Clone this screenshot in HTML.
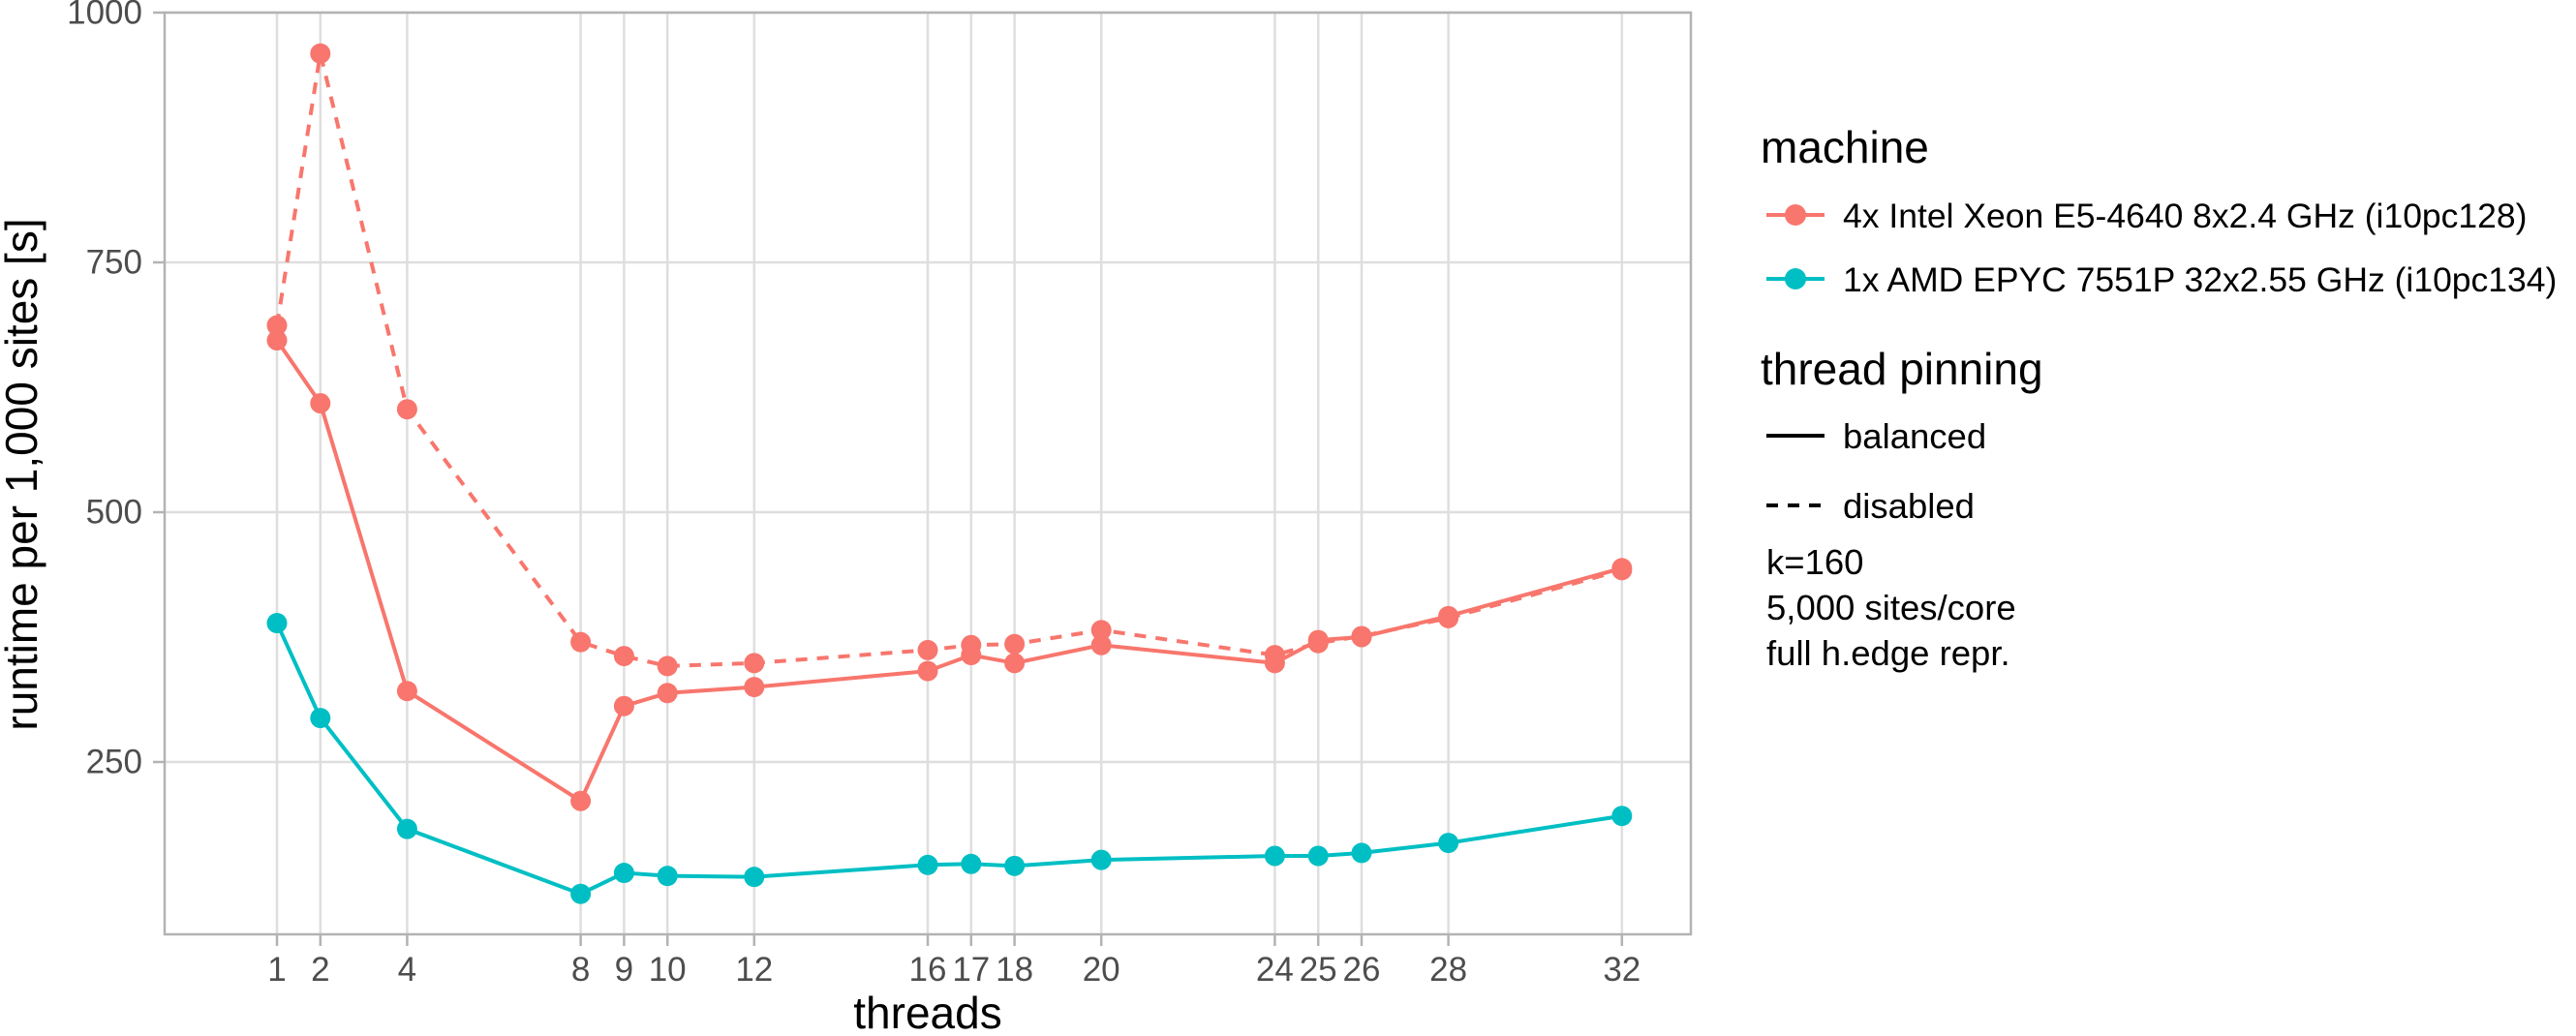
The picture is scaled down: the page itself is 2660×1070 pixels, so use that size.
<!DOCTYPE html>
<html><head><meta charset="utf-8"><style>
html,body{margin:0;padding:0;background:#fff;width:2660px;height:1070px;overflow:hidden}
svg{display:block;font-family:"Liberation Sans",sans-serif}
</style></head><body>
<svg id="chart" width="2660" height="1070" viewBox="0 0 2660 1070">
<g id="grid"></g>
<g id="series"></g>
<g id="axes"></g>
<text x="22" y="490" transform="rotate(-90 22 490)" text-anchor="middle" dominant-baseline="central" font-size="46" fill="#000">runtime per 1,000 sites [s]</text>
<text x="958" y="1062" text-anchor="middle" font-size="46" fill="#000">threads</text>
<g>
<text x="1818" y="168" font-size="46" fill="#000">machine</text>
<g>
<line x1="1824" y1="222" x2="1884" y2="222" stroke="#F8766D" stroke-width="4"/>
<circle cx="1854" cy="222" r="11" fill="#F8766D"/>
<text x="1903" y="235" font-size="35.5" fill="#000">4x Intel Xeon E5-4640 8x2.4 GHz (i10pc128)</text>
</g>
<g>
<line x1="1824" y1="288" x2="1884" y2="288" stroke="#00BFC4" stroke-width="4"/>
<circle cx="1854" cy="288" r="11" fill="#00BFC4"/>
<text x="1903" y="301" font-size="35.5" fill="#000">1x AMD EPYC 7551P 32x2.55 GHz (i10pc134)</text>
</g>
<text x="1818" y="397" font-size="46" fill="#000">thread pinning</text>
<g>
<line x1="1824" y1="450" x2="1884" y2="450" stroke="#000" stroke-width="4"/>
<text x="1903" y="463" font-size="36.5" fill="#000">balanced</text>
</g>
<g>
<line x1="1824" y1="522" x2="1884" y2="522" stroke="#000" stroke-width="4" stroke-dasharray="12,10"/>
<text x="1903" y="535" font-size="36.5" fill="#000">disabled</text>
</g>
<text x="1824" y="593" font-size="36.5" fill="#000">k=160</text>
<text x="1824" y="640" font-size="36.5" fill="#000">5,000 sites/core</text>
<text x="1824" y="687" font-size="36.5" fill="#000">full h.edge repr.</text>
</g>
</svg>
<script>
const threads=[1,2,4,8,9,10,12,16,17,18,20,24,25,26,28,32];
const intelBalanced=[672,609,321,211,306,319,325,341,357,349,367,349,372,375,396,444];
const intelDisabled=[687,959,603,370,356,346,349,362,367,368,382,357,369,376,394,442];
const amdBalanced=[389,294,183,118,139,136,135,147,148,146,152,156,156,159,169,196];
const yTicks=[250,500,750,1000];

const L=170,R=1746,T=13,B=965;
function xs(t){return 286+(t-1)*44.8;}
function ys(v){return 13+(1000-v)*1.032;}
const NS="http://www.w3.org/2000/svg";
function mk(tag,attrs,parent){const e=document.createElementNS(NS,tag);for(const k in attrs)e.setAttribute(k,attrs[k]);parent.appendChild(e);return e;}
const grid=document.getElementById('grid'),axes=document.getElementById('axes'),ser=document.getElementById('series');
mk('rect',{x:L,y:T,width:R-L,height:B-T,fill:'#fff'},grid);
yTicks.forEach(v=>{
  const g=mk('line',{x1:L,x2:R,y1:ys(v),y2:ys(v),stroke:'#dedede','stroke-width':2.5},grid);
  
  
  mk('line',{x1:158,x2:L,y1:ys(v),y2:ys(v),stroke:'#b3b3b3','stroke-width':2.5},axes);
  const t=mk('text',{x:147,y:ys(v),'text-anchor':'end','dominant-baseline':'central','font-size':35,fill:'#4d4d4d'},axes);
  t.textContent=v;
  
  
});
threads.forEach(th=>{
  const g=mk('line',{x1:xs(th),x2:xs(th),y1:T,y2:B,stroke:'#dedede','stroke-width':2.5},grid);
  
  
  mk('line',{x1:xs(th),x2:xs(th),y1:B,y2:977,stroke:'#b3b3b3','stroke-width':2.5},axes);
  const t=mk('text',{x:xs(th),y:1013,'text-anchor':'middle','font-size':35,fill:'#4d4d4d'},axes);
  t.textContent=th;
  
  
});
const border=mk('rect',{x:L,y:T,width:R-L,height:B-T,fill:'none',stroke:'#b3b3b3','stroke-width':2.5},axes);


function drawSeries(vals,color,dash,name){
  const pts=threads.map((t,i)=>xs(t)+','+ys(vals[i])).join(' ');
  const pl=mk('polyline',{points:pts,fill:'none',stroke:color,'stroke-width':4,'stroke-dasharray':dash||'none'},ser);
  
  
  threads.forEach((t,i)=>{
    const c=mk('circle',{cx:xs(t),cy:ys(vals[i]),r:10.5,fill:color},ser);
    
    
  });
}
drawSeries(intelDisabled,'#F8766D','12,10','intel-disabled');
drawSeries(intelBalanced,'#F8766D',null,'intel-balanced');
drawSeries(amdBalanced,'#00BFC4',null,'amd-balanced');
</script>
</body></html>
